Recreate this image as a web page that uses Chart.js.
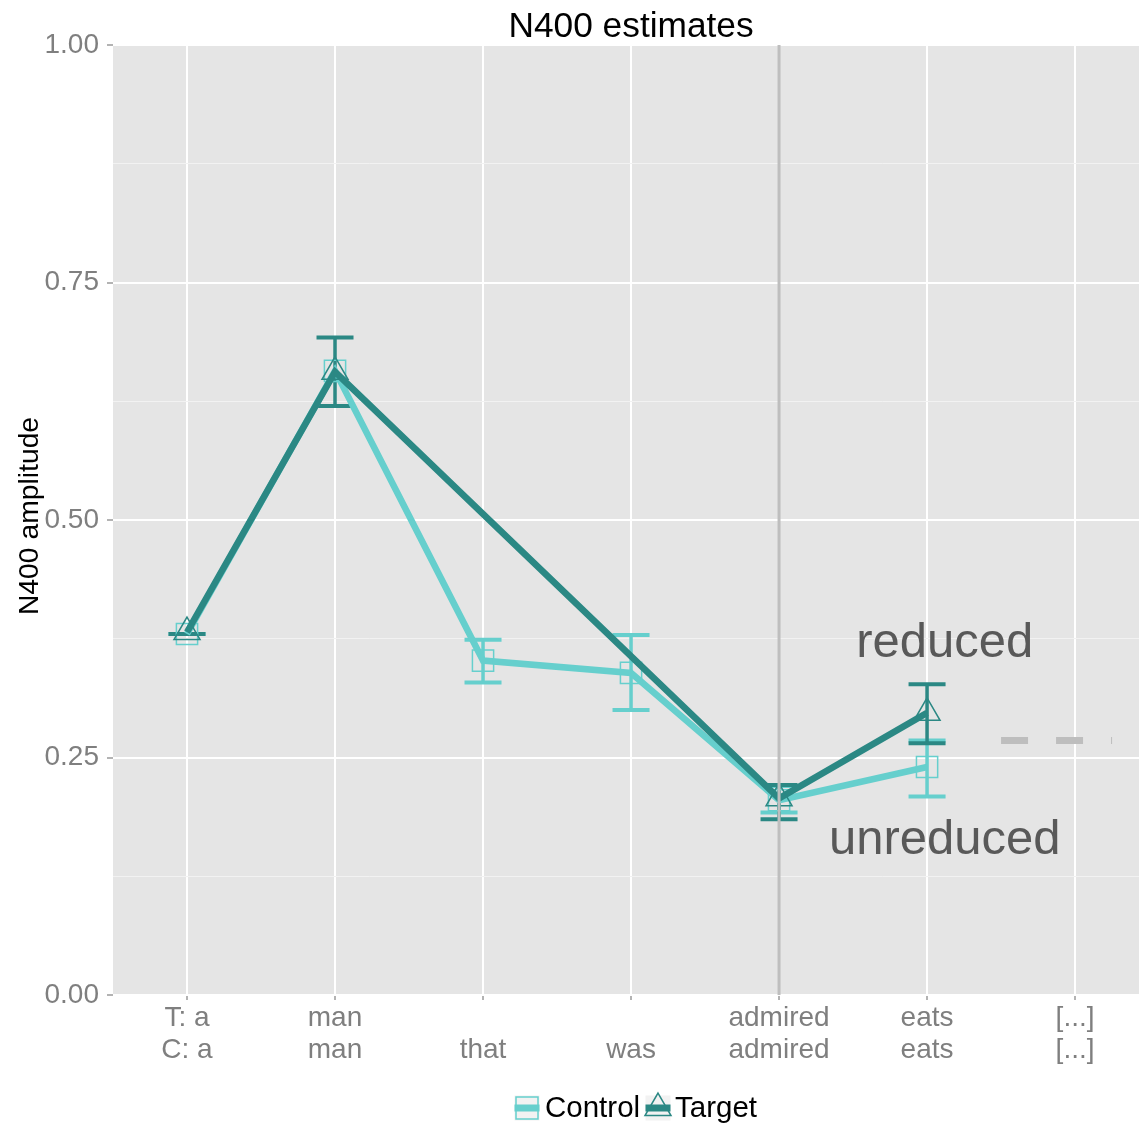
<!DOCTYPE html>
<html>
<head>
<meta charset="utf-8">
<title>N400 estimates</title>
<script src="https://cdn.jsdelivr.net/npm/chart.js@4.4.1/dist/chart.umd.min.js"></script>
<style>
  html, body { margin: 0; padding: 0; background: #ffffff; overflow: hidden; }
  #chart { display: block; width: 1139px; height: 1125px; }
</style>
</head>
<body>
<canvas id="chart" width="1139" height="1125"></canvas>
<script>
// Word positions: first line is the target sentence, second the control sentence
const targetWords  = ['T: a', 'man', '', '', 'admired', 'eats', '[...]'];
const controlWords = ['C: a', 'man', 'that', 'was', 'admired', 'eats', '[...]'];

// Estimated N400 amplitude per word, with interval bounds
const controlMean = [0.380, 0.657, 0.352, 0.339, 0.205, 0.240, null];
const controlLow  = [0.380, null,  0.329, 0.300, 0.192, 0.209, null];
const controlHigh = [0.380, null,  0.374, 0.379, 0.220, 0.268, null];

const targetMean  = [0.382, 0.656, null, null, 0.207, 0.297, null];
const targetLow   = [0.380, 0.620, null, null, 0.185, 0.265, null];
const targetHigh  = [0.380, 0.692, null, null, 0.221, 0.327, null];

const yTickValues = [0, 0.25, 0.5, 0.75, 1];
const boundaryWord = 4;        // 'admired'
const referenceLevel = 0.268;  // grey dashed level after 'eats'
const reducedLevel = 0.370;
const unreducedLevel = 0.163;
const noteColumn = 5.12;

const seriesNames = ['Control', 'Target'];
const chartTitle = 'N400 estimates';
const yTitle = 'N400 amplitude';
const noteTexts = ['reduced', 'unreduced'];

const CONTROL = '#66cfcd';
const TARGET = '#2b8884';
const FONT = "'Liberation Sans', Arial, Helvetica, sans-serif";

Chart.defaults.font.family = FONT;

const toPoints = arr => arr.map((v, i) => ({ x: i, y: v }));

// Interval whiskers, drawn beneath the lines
const intervalBars = {
  id: 'intervalBars',
  beforeDatasetsDraw(chart) {
    const { ctx, scales: { x, y } } = chart;
    [[controlLow, controlHigh, CONTROL], [targetLow, targetHigh, TARGET]].forEach(([lo, hi, col]) => {
      ctx.save();
      ctx.strokeStyle = col;
      ctx.lineCap = 'butt';
      lo.forEach((l, i) => {
        if (l == null || hi[i] == null) return;
        const px = x.getPixelForValue(i);
        const pl = y.getPixelForValue(l);
        const ph = y.getPixelForValue(hi[i]);
        const x0 = x.getPixelForValue(i - 0.125);
        const x1 = x.getPixelForValue(i + 0.125);
        ctx.lineWidth = 3.5;
        ctx.beginPath(); ctx.moveTo(px, pl); ctx.lineTo(px, ph); ctx.stroke();
        ctx.lineWidth = 4;
        ctx.beginPath();
        ctx.moveTo(x0, pl); ctx.lineTo(x1, pl);
        ctx.moveTo(x0, ph); ctx.lineTo(x1, ph);
        ctx.stroke();
      });
      ctx.restore();
    });
  }
};

// Plot background, boundary line, dashed level, text notes, titles and legend
const panel = {
  id: 'panel',
  beforeDraw(chart) {
    const { ctx, chartArea: a } = chart;
    ctx.save();
    ctx.fillStyle = '#e5e5e5';
    ctx.fillRect(a.left, a.top, a.right - a.left, a.bottom - a.top);
    ctx.restore();
  },
  afterDatasetsDraw(chart) {
    const { ctx, chartArea: a, scales: { x, y } } = chart;
    ctx.save();
    // boundary at the critical word
    const bx = x.getPixelForValue(boundaryWord);
    ctx.strokeStyle = '#bebebe';
    ctx.lineWidth = 3;
    ctx.beginPath(); ctx.moveTo(bx, a.top); ctx.lineTo(bx, a.bottom); ctx.stroke();
    // dashed reference level
    const ly = y.getPixelForValue(referenceLevel);
    ctx.lineWidth = 7;
    ctx.setLineDash([27, 28]);
    ctx.beginPath();
    ctx.moveTo(x.getPixelForValue(5.5), ly);
    ctx.lineTo(x.getPixelForValue(6.25), ly);
    ctx.stroke();
    ctx.setLineDash([]);
    // notes
    ctx.fillStyle = '#595959';
    ctx.font = '49px ' + FONT;
    ctx.textAlign = 'center';
    ctx.textBaseline = 'middle';
    const nx = x.getPixelForValue(noteColumn);
    ctx.fillText(noteTexts[0], nx, y.getPixelForValue(reducedLevel));
    ctx.fillText(noteTexts[1], nx, y.getPixelForValue(unreducedLevel));
    ctx.restore();
  },
  afterDraw(chart) {
    const { ctx, scales: { x } } = chart;
    ctx.save();
    // title centred over the full panel
    ctx.fillStyle = '#000000';
    ctx.font = '35.3px ' + FONT;
    ctx.textAlign = 'center';
    ctx.textBaseline = 'middle';
    ctx.fillText(chartTitle, x.getPixelForValue(3), 27);

    // vertical axis title
    ctx.save();
    ctx.translate(30, 516);
    ctx.rotate(-Math.PI / 2);
    ctx.font = '28.3px ' + FONT;
    ctx.fillText(yTitle, 0, 0);
    ctx.restore();

    // legend
    const ky = 1108;
    const keys = [
      { cx: 527, tx: 545, col: CONTROL, shape: 'square' },
      { cx: 658, tx: 675, col: TARGET, shape: 'triangle' }
    ];
    keys.forEach((k, i) => {
      ctx.fillStyle = '#f2f2f2';
      ctx.fillRect(k.cx - 12.5, ky - 12.5, 25, 25);
      ctx.strokeStyle = k.col;
      ctx.lineWidth = 7;
      ctx.beginPath(); ctx.moveTo(k.cx - 12.5, ky); ctx.lineTo(k.cx + 12.5, ky); ctx.stroke();
      ctx.lineWidth = 1.5;
      ctx.beginPath();
      if (k.shape === 'square') {
        ctx.rect(k.cx - 11, ky - 11, 22, 22);
      } else {
        const r = 15;
        ctx.moveTo(k.cx, ky - r);
        ctx.lineTo(k.cx + r * Math.sqrt(3) / 2, ky + r / 2);
        ctx.lineTo(k.cx - r * Math.sqrt(3) / 2, ky + r / 2);
        ctx.closePath();
      }
      ctx.stroke();
      ctx.fillStyle = '#000000';
      ctx.font = '29.5px ' + FONT;
      ctx.textAlign = 'left';
      ctx.textBaseline = 'middle';
      ctx.fillText(seriesNames[i], k.tx, ky + 1);
    });
    ctx.restore();
  }
};

new Chart(document.getElementById('chart'), {
  type: 'line',
  data: {
    datasets: [
      {
        label: seriesNames[0],
        data: toPoints(controlMean),
        borderColor: CONTROL,
        backgroundColor: 'transparent',
        borderWidth: 6.5,
        pointStyle: 'rect',
        pointRadius: 15,
        pointBorderWidth: 1.5,
        pointBorderColor: CONTROL,
        pointBackgroundColor: 'transparent',
        order: 1
      },
      {
        label: seriesNames[1],
        data: toPoints(targetMean),
        borderColor: TARGET,
        backgroundColor: 'transparent',
        borderWidth: 6.5,
        spanGaps: true,
        pointStyle: 'triangle',
        pointRadius: 15,
        pointBorderWidth: 1.5,
        pointBorderColor: TARGET,
        pointBackgroundColor: 'transparent',
        order: 0
      }
    ]
  },
  options: {
    responsive: false,
    maintainAspectRatio: false,
    devicePixelRatio: 1,
    animation: false,
    events: [],
    layout: { autoPadding: false, padding: { top: 45, left: 0, right: 0, bottom: 0 } },
    plugins: {
      legend: { display: false },
      tooltip: { enabled: false },
      title: { display: false }
    },
    scales: {
      x: {
        type: 'linear',
        min: -0.5,
        max: 6.432,
        afterBuildTicks: s => { s.ticks = controlWords.map((_, i) => ({ value: i })); },
        afterFit: s => { s.height = 130; s.paddingLeft = 0; s.paddingRight = 0; },
        border: { display: false },
        grid: {
          color: '#ffffff',
          lineWidth: 2,
          drawTicks: true,
          tickLength: 5,
          tickColor: '#9a9a9a',
          tickWidth: 1.5
        },
        ticks: {
          color: '#7f7f7f',
          font: { size: 28, lineHeight: 1.15 },
          padding: 2,
          maxRotation: 0,
          autoSkip: false,
          callback: v => [targetWords[v], controlWords[v]]
        }
      },
      y: {
        min: 0,
        max: 1,
        afterBuildTicks: s => {
          const t = [];
          for (let i = 0; i < yTickValues.length; i++) {
            t.push({ value: yTickValues[i], major: true });
            if (i < yTickValues.length - 1) t.push({ value: (yTickValues[i] + yTickValues[i + 1]) / 2, major: false });
          }
          s.ticks = t;
        },
        afterFit: s => { s.width = 113; s.paddingTop = 0; s.paddingBottom = 0; },
        border: { display: false },
        grid: {
          color: c => (yTickValues.includes(c.tick.value) ? '#ffffff' : '#f2f2f2'),
          lineWidth: c => (yTickValues.includes(c.tick.value) ? 2 : 1),
          drawTicks: true,
          tickLength: 6,
          tickColor: c => (yTickValues.includes(c.tick.value) ? '#9a9a9a' : 'rgba(0,0,0,0)'),
          tickWidth: 1.5
        },
        ticks: {
          color: '#7f7f7f',
          font: { size: 28 },
          padding: 8,
          autoSkip: false,
          callback: v => (yTickValues.includes(v) ? v.toFixed(2) : '')
        },
        title: { display: false }
      }
    }
  },
  plugins: [panel, intervalBars]
});
</script>
</body>
</html>
